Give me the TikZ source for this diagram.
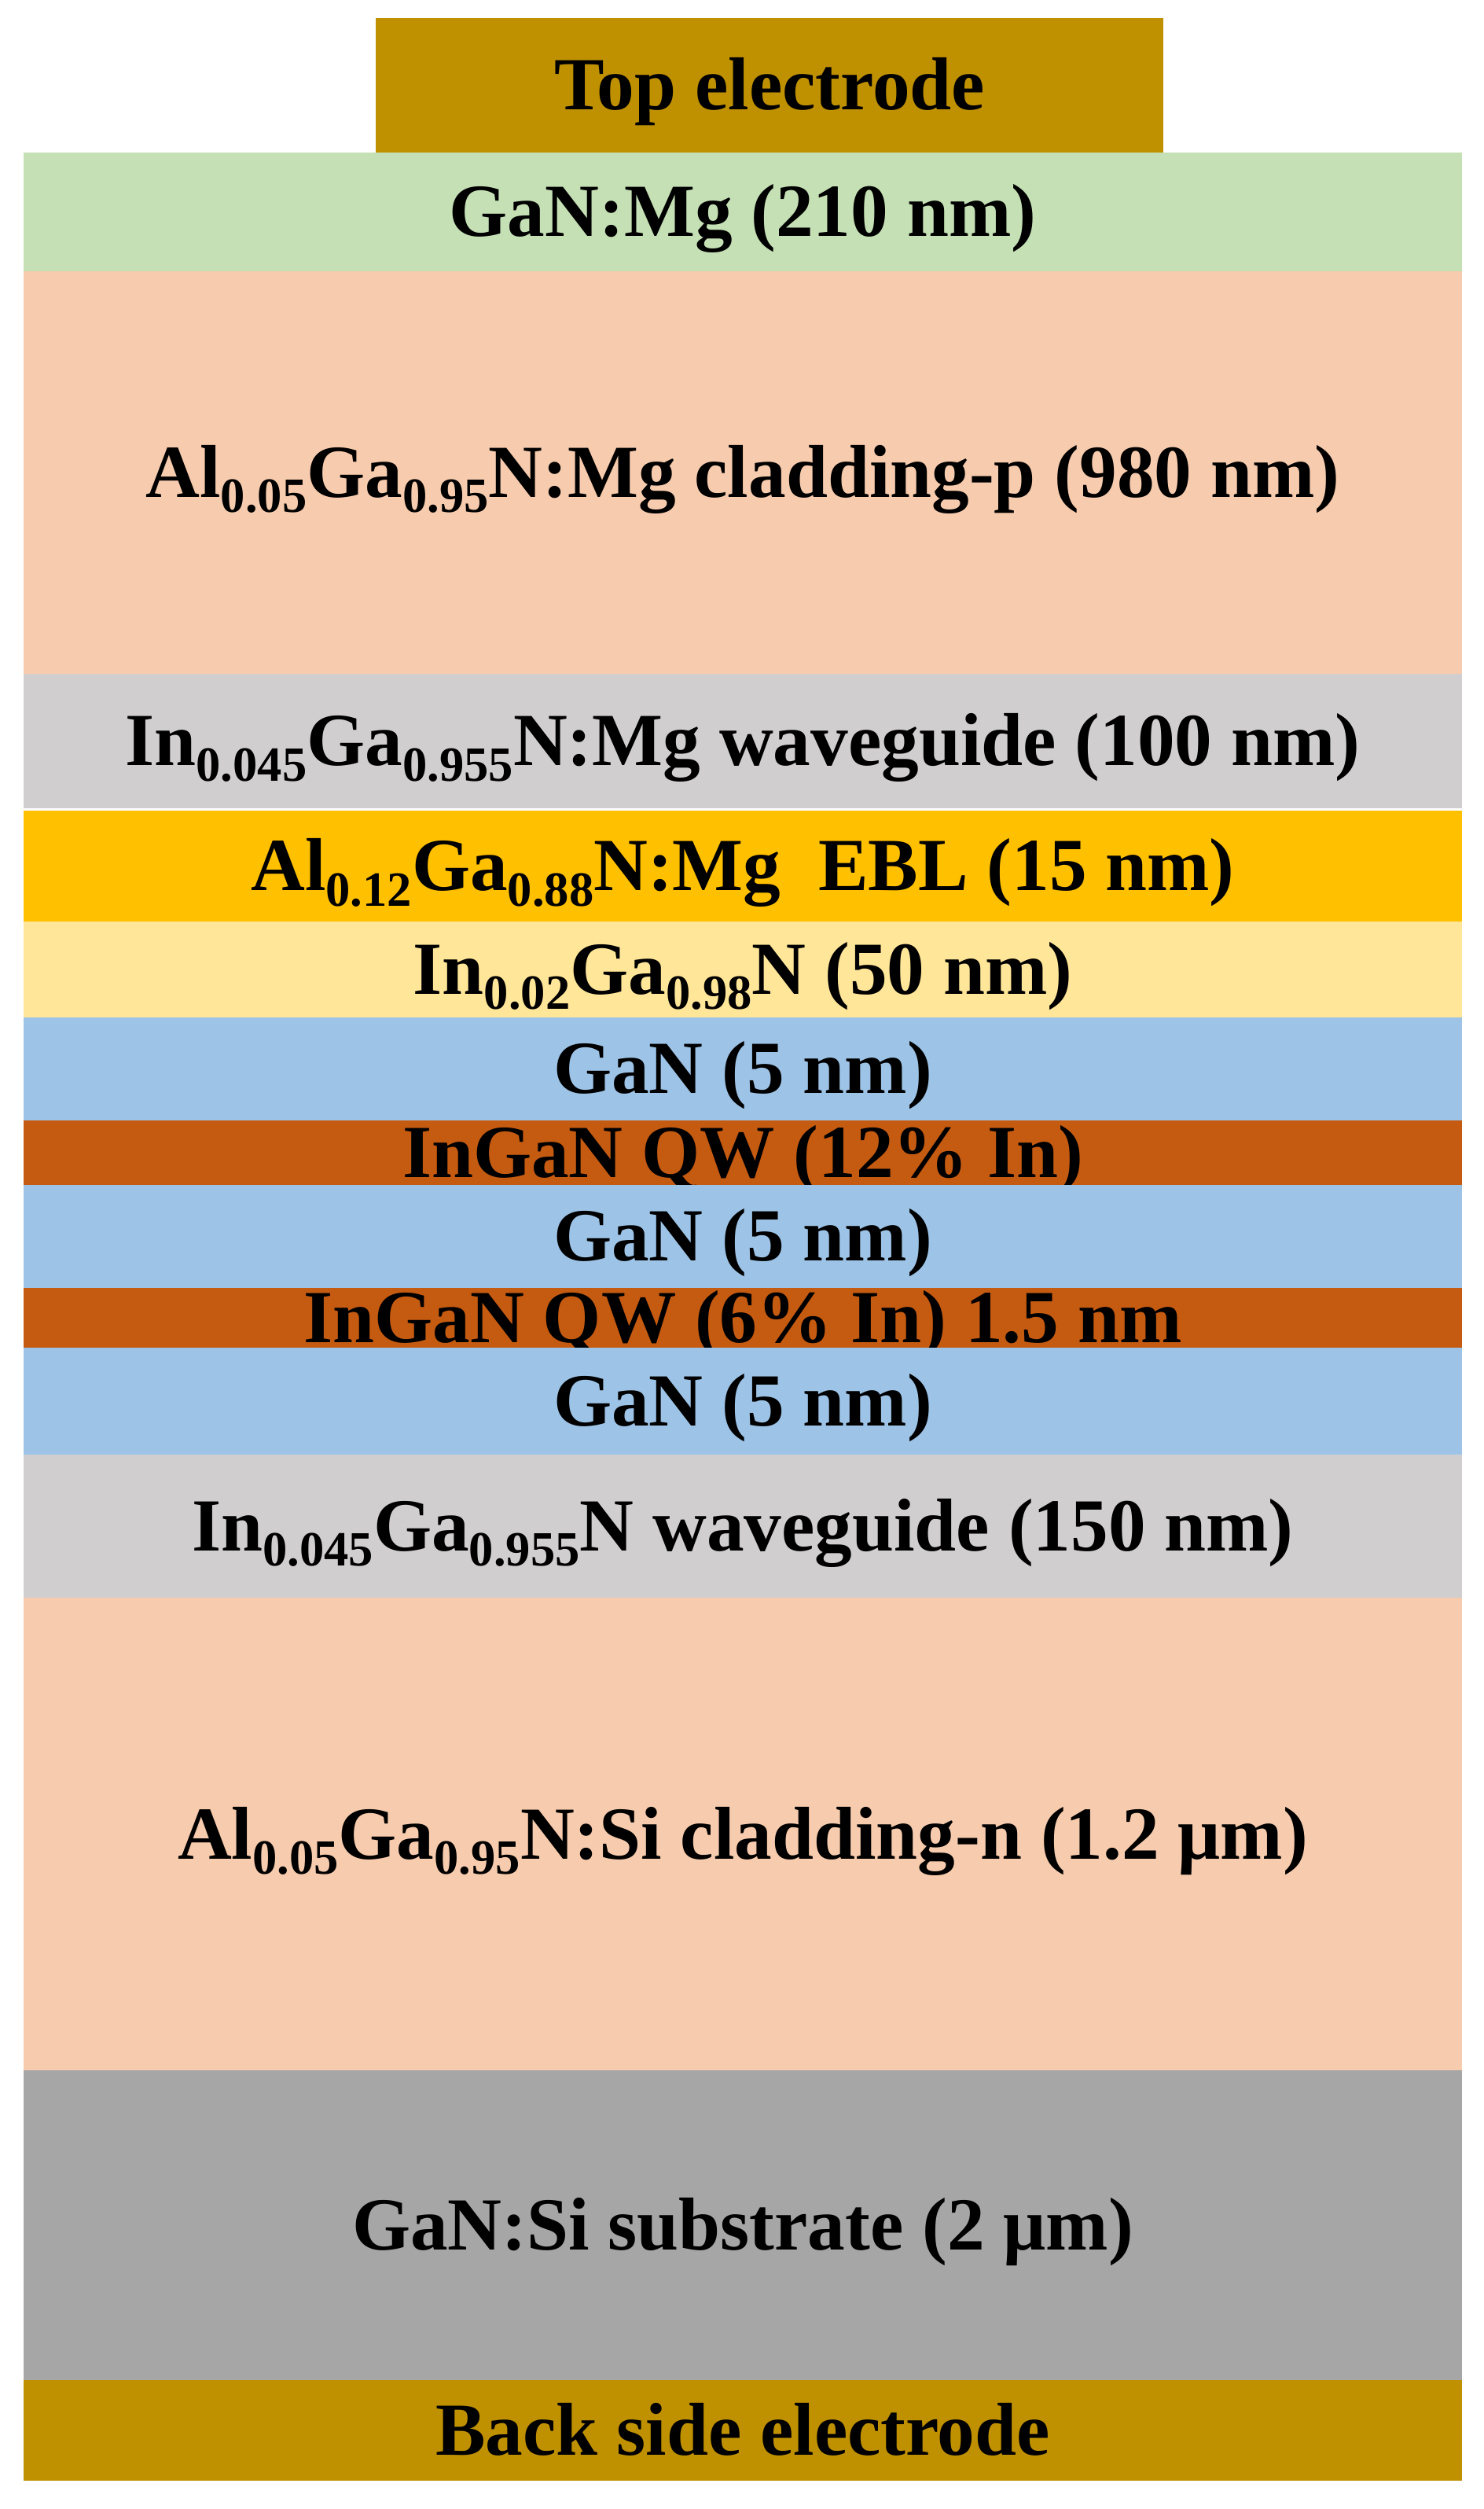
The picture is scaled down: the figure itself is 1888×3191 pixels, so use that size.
\documentclass[tikz,border=0pt]{standalone}
\usepackage{fontspec}
\setmainfont{Liberation Serif}
\definecolor{electrode}{HTML}{BF9000}
\definecolor{ganmg}{HTML}{C5E0B4}
\definecolor{clad}{HTML}{F7CBAD}
\definecolor{wguide}{HTML}{D0CECE}
\definecolor{ebl}{HTML}{FFC000}
\definecolor{lowin}{HTML}{FFE699}
\definecolor{barrier}{HTML}{9DC3E6}
\definecolor{qwell}{HTML}{C55A11}
\definecolor{substr}{HTML}{A6A6A6}
\newcommand\sbx[1]{\raisebox{-5.5pt}{\fontsize{17.8}{17.8}\selectfont #1}}
\begin{document}
\begin{tikzpicture}[x=0.01cm,y=-0.01cm,
  layer/.style={draw=none,inner sep=0pt,outer sep=0pt,
    minimum width=18.28cm,
    font=\fontsize{27.1}{30}\selectfont\bfseries,
    text height=17.9pt,text depth=0pt,align=center}]
\useasboundingbox (0,0) rectangle (1888,3191);
\node[layer,fill=electrode,minimum width=10.02cm,minimum height=1.71cm] (top) at (979,108.5) {Top electrode};
\node[layer,fill=ganmg,minimum height=1.51cm] (ganmg) at (945,269.5) {GaN:Mg (210 nm)};
\node[layer,fill=clad,minimum height=5.12cm] (cladp) at (945,601) {Al\sbx{0.05}Ga\sbx{0.95}N:Mg cladding-p (980 nm)};
\node[layer,fill=wguide,minimum height=1.71cm] (wgp) at (945,942.5) {In\sbx{0.045}Ga\sbx{0.955}N:Mg waveguide (100 nm)};
\node[layer,fill=ebl,minimum height=1.41cm] (ebl) at (945,1101.5) {Al\sbx{0.12}Ga\sbx{0.88}N:Mg\ \ EBL (15 nm)};
\node[layer,fill=lowin,minimum height=1.22cm] (ingan) at (945,1233) {In\sbx{0.02}Ga\sbx{0.98}N (50 nm)};
\node[layer,fill=barrier,minimum height=1.31cm] (gan1) at (945,1359.5) {GaN (5 nm)};
\node[layer,fill=qwell,minimum height=0.82cm] (qw1) at (945,1466) {InGaN QW (12\% In)};
\node[layer,fill=barrier,minimum height=1.31cm] (gan2) at (945,1572.5) {GaN (5 nm)};
\node[layer,fill=qwell,minimum height=0.76cm] (qw2) at (945,1676) {InGaN QW (6\% In) 1.5 nm};
\node[layer,fill=barrier,minimum height=1.36cm] (gan3) at (945,1782) {GaN (5 nm)};
\node[layer,fill=wguide,minimum height=1.82cm] (wgn) at (945,1941) {In\sbx{0.045}Ga\sbx{0.955}N waveguide (150 nm)};
\node[layer,fill=clad,minimum height=6.01cm] (cladn) at (945,2332.5) {Al\sbx{0.05}Ga\sbx{0.95}N:Si cladding-n (1.2 μm)};
\node[layer,fill=substr,minimum height=3.94cm] (sub) at (945,2830) {GaN:Si substrate (2 μm)};
\node[layer,fill=electrode,minimum height=1.28cm] (back) at (945,3091) {Back side electrode};
\end{tikzpicture}
\end{document}
